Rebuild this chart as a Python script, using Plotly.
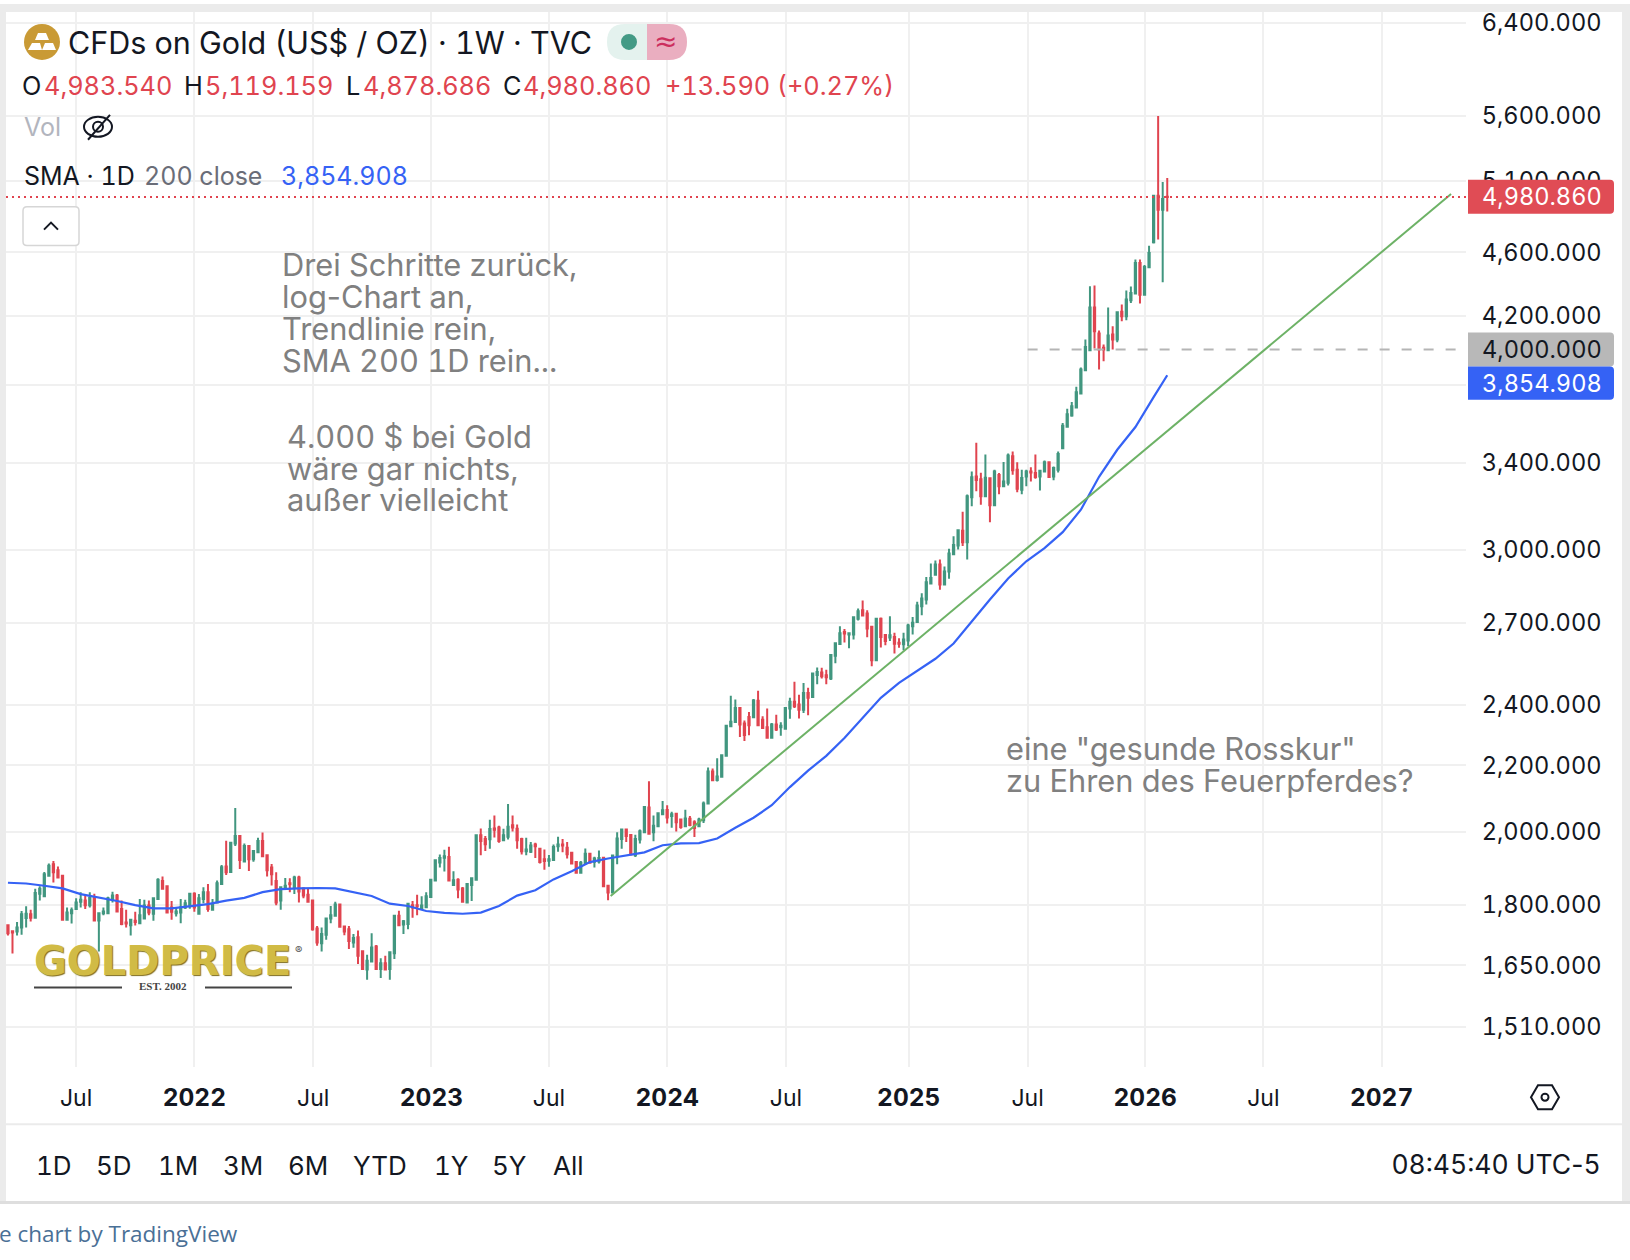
import pandas as pd
import plotly.graph_objects as go

W, H = 1630, 1260

# weekly OHLC
opens = [
    1748, 1733, 1732, 1742, 1766, 1776, 1767, 1829, 1822, 1877,
    1908, 1892, 1877, 1762, 1778, 1789, 1808, 1811, 1799, 1819,
    1760, 1778, 1778, 1813, 1824, 1789, 1755, 1748, 1759, 1753,
    1765, 1798, 1777, 1815, 1863, 1849, 1793, 1778, 1780, 1793,
    1796, 1829, 1777, 1815, 1833, 1787, 1806, 1855, 1902, 1887,
    1966, 1987, 1916, 1959, 1922, 1941, 1973, 1933, 1899, 1863,
    1811, 1844, 1857, 1846, 1872, 1843, 1826, 1811, 1740, 1703,
    1724, 1765, 1772, 1801, 1745, 1738, 1705, 1718, 1684, 1640,
    1659, 1695, 1641, 1655, 1641, 1679, 1772, 1750, 1751, 1799,
    1799, 1789, 1794, 1820, 1864, 1913, 1926, 1928, 1852, 1866,
    1843, 1806, 1852, 1866, 1989, 1979, 1978, 2009, 2012,
    1975, 1985, 2018, 2008, 1979, 1944, 1943, 1963, 1951, 1922, 1918,
    1920, 1958, 1963, 1954, 1940, 1914, 1885, 1910, 1937, 1915,
    1916, 1926, 1850, 1832, 1930, 1979, 2006, 1990, 1933, 1977,
    1998, 2070, 1998, 2015, 2050, 2063, 2045, 2052, 2035, 2015,
    2037, 2027, 2015, 2033, 2082, 2180, 2154, 2164, 2230, 2327,
    2341, 2389, 2336, 2358, 2357, 2414, 2349, 2324, 2289, 2333,
    2324, 2319, 2387, 2410, 2401, 2383, 2441, 2427, 2505, 2514,
    2504, 2492, 2575, 2619, 2665, 2655, 2655, 2716, 2749, 2737,
    2685, 2559, 2716, 2653, 2644, 2646, 2624, 2618, 2632, 2687,
    2703, 2765, 2792, 2857, 2893, 2936, 2853, 2907, 2980, 3018,
    3082, 3032, 3234, 3332, 3319, 3239, 3324, 3197, 3340, 3286,
    3302, 3431, 3365, 3270, 3333, 3357, 3349, 3333, 3357, 3401,
    3333, 3365, 3471, 3579, 3638, 3680, 3755, 3883, 3996, 4249,
    4093, 4010, 3996, 4087, 4058, 4224, 4196, 4294, 4335, 4530,
    4328, 4502, 4667, 4990, 4890, 4983.54,
]
highs = [
    1748, 1733, 1756, 1784, 1796, 1787, 1842, 1849, 1887, 1910,
    1917, 1902, 1879, 1793, 1793, 1817, 1833, 1826, 1833, 1829,
    1778, 1793, 1821, 1834, 1828, 1811, 1787, 1763, 1782, 1815,
    1813, 1811, 1817, 1870, 1875, 1850, 1810, 1793, 1815, 1813,
    1831, 1833, 1828, 1846, 1855, 1815, 1864, 1906, 1974, 1968,
    2069, 1989, 1966, 1961, 1945, 1982, 1997, 1935, 1909, 1886,
    1846, 1871, 1870, 1877, 1877, 1846, 1843, 1811, 1746, 1742,
    1765, 1797, 1808, 1801, 1747, 1746, 1726, 1735, 1684, 1675,
    1728, 1699, 1667, 1673, 1681, 1773, 1785, 1761, 1805, 1810,
    1826, 1822, 1833, 1868, 1922, 1935, 1948, 1957, 1889, 1870,
    1847, 1857, 1871, 1989, 2009, 1987, 2034, 2047, 2017,
    2008, 2081, 2047, 2020, 1982, 1982, 1970, 1968, 1954, 1949, 1934,
    1963, 1985, 1979, 1970, 1942, 1916, 1917, 1952, 1937, 1929,
    1946, 1928, 1851, 1932, 1998, 2009, 2006, 1993, 1991, 2006,
    2074, 2150, 2047, 2055, 2090, 2077, 2058, 2054, 2037, 2064,
    2045, 2033, 2040, 2088, 2193, 2190, 2222, 2234, 2329, 2431,
    2418, 2389, 2346, 2375, 2420, 2449, 2361, 2387, 2338, 2366,
    2340, 2389, 2424, 2481, 2435, 2476, 2459, 2514, 2532, 2531,
    2524, 2582, 2625, 2687, 2676, 2660, 2722, 2756, 2788, 2749,
    2687, 2716, 2721, 2655, 2726, 2662, 2641, 2662, 2696, 2723,
    2783, 2817, 2884, 2941, 2953, 2958, 2928, 3004, 3058, 3088,
    3168, 3247, 3357, 3498, 3351, 3439, 3329, 3365, 3349, 3403,
    3444, 3454, 3401, 3365, 3365, 3377, 3439, 3360, 3410, 3406,
    3381, 3454, 3599, 3673, 3709, 3791, 3898, 4058, 4381, 4385,
    4111, 4029, 4249, 4136, 4224, 4267, 4354, 4379, 4552, 4552,
    4517, 4644, 4995, 5597, 5089, 5119.159,
]
lows = [
    1722, 1678, 1722, 1724, 1742, 1757, 1767, 1811, 1822, 1875,
    1859, 1871, 1762, 1762, 1752, 1789, 1793, 1789, 1793, 1758,
    1683, 1773, 1777, 1806, 1780, 1748, 1742, 1722, 1747, 1751,
    1765, 1773, 1759, 1813, 1840, 1778, 1762, 1770, 1753, 1789,
    1790, 1782, 1777, 1804, 1782, 1787, 1804, 1855, 1879, 1887,
    1959, 1895, 1913, 1890, 1915, 1939, 1928, 1875, 1851, 1799,
    1787, 1842, 1833, 1828, 1806, 1817, 1806, 1734, 1697, 1683,
    1712, 1753, 1770, 1744, 1723, 1689, 1692, 1653, 1640, 1616,
    1659, 1640, 1620, 1640, 1616, 1665, 1748, 1726, 1738, 1767,
    1773, 1789, 1793, 1820, 1864, 1899, 1888, 1864, 1852, 1817,
    1806, 1804, 1810, 1866, 1933, 1945, 1951, 1983, 1968,
    1973, 1977, 2000, 1951, 1935, 1933, 1939, 1925, 1910, 1893, 1901,
    1918, 1943, 1941, 1924, 1910, 1883, 1883, 1910, 1912, 1899,
    1910, 1847, 1812, 1832, 1908, 1951, 1970, 1933, 1928, 1966,
    1998, 1994, 1972, 2015, 2050, 2023, 2011, 2000, 2008, 2015,
    2015, 1984, 2015, 2025, 2082, 2151, 2149, 2164, 2230, 2325,
    2339, 2291, 2278, 2297, 2355, 2327, 2319, 2287, 2287, 2311,
    2295, 2319, 2352, 2389, 2353, 2372, 2364, 2427, 2472, 2492,
    2472, 2487, 2548, 2615, 2625, 2603, 2636, 2709, 2726, 2645,
    2537, 2559, 2606, 2614, 2630, 2584, 2605, 2596, 2611, 2655,
    2703, 2730, 2772, 2854, 2890, 2832, 2853, 2877, 2980, 3000,
    3015, 2958, 3193, 3262, 3200, 3239, 3120, 3197, 3248, 3286,
    3290, 3341, 3258, 3248, 3286, 3308, 3322, 3266, 3354, 3327,
    3314, 3352, 3468, 3575, 3631, 3680, 3755, 3883, 3996, 4006,
    3887, 3933, 3996, 4000, 4042, 4166, 4172, 4277, 4330, 4273,
    4325, 4500, 4658, 4685, 4406, 4878.686,
]
closes = [
    1728, 1730, 1742, 1776, 1777, 1767, 1831, 1842, 1881, 1904,
    1886, 1872, 1762, 1780, 1786, 1806, 1813, 1799, 1818, 1760,
    1778, 1783, 1817, 1824, 1783, 1751, 1752, 1762, 1756, 1773,
    1798, 1780, 1817, 1866, 1842, 1780, 1782, 1783, 1793, 1804,
    1829, 1793, 1817, 1833, 1789, 1801, 1857, 1900, 1886, 1968,
    1987, 1920, 1959, 1922, 1945, 1973, 1930, 1892, 1881, 1806,
    1846, 1850, 1854, 1872, 1835, 1824, 1808, 1738, 1705, 1726,
    1765, 1773, 1801, 1744, 1732, 1709, 1716, 1673, 1641, 1661,
    1693, 1641, 1655, 1640, 1681, 1772, 1748, 1758, 1803, 1793,
    1796, 1798, 1822, 1866, 1919, 1925, 1930, 1864, 1865, 1840,
    1808, 1855, 1870, 1989, 1973, 1964, 2007, 2005, 1973,
    1989, 2014, 2012, 1975, 1944, 1949, 1960, 1958, 1914, 1917, 1922,
    1956, 1963, 1960, 1936, 1910, 1885, 1912, 1937, 1912, 1924,
    1925, 1849, 1832, 1932, 1980, 2006, 1987, 1935, 1979, 2001,
    2072, 1994, 2017, 2053, 2062, 2041, 2050, 2027, 2013, 2038,
    2019, 2010, 2035, 2082, 2180, 2153, 2165, 2232, 2329, 2342,
    2389, 2333, 2298, 2330, 2415, 2330, 2321, 2289, 2333, 2316,
    2329, 2389, 2410, 2395, 2383, 2441, 2424, 2510, 2516, 2500,
    2497, 2578, 2622, 2660, 2659, 2660, 2722, 2745, 2729, 2678,
    2559, 2716, 2646, 2630, 2652, 2620, 2620, 2636, 2690, 2700,
    2768, 2796, 2862, 2880, 2936, 2853, 2907, 2983, 3020, 3084,
    3032, 3239, 3329, 3316, 3239, 3326, 3197, 3357, 3286, 3308,
    3434, 3362, 3274, 3325, 3357, 3352, 3330, 3360, 3402, 3330,
    3373, 3442, 3585, 3644, 3687, 3762, 3887, 4015, 4249, 4107,
    4000, 4000, 4081, 4058, 4220, 4196, 4298, 4339, 4530, 4328,
    4504, 4595, 4990, 4890, 4967, 4980.86,
]
# SMA 200 1D, read every fourth week plus the last bar
sma_values = [
    1858, 1856, 1850, 1843, 1828, 1819, 1810, 1799, 1791, 1791,
    1796, 1802, 1811, 1818, 1833, 1841, 1843, 1844, 1843, 1833,
    1823, 1803, 1797, 1784, 1779, 1777, 1780, 1797,
    1824, 1838, 1867, 1889, 1914, 1924, 1932, 1941, 1961, 1966,
    1967, 1980, 2011, 2040, 2077, 2132, 2183, 2230, 2288, 2355,
    2424, 2477, 2519, 2564, 2621, 2706, 2792, 2878, 2950, 3006,
    3076, 3177, 3331, 3463, 3578, 3735, 3854.908,
]
trend_dates = ["2023-09-29", "2027-04-15"]
trend_values = [1823, 5002]
level_dates = ["2025-07-02", "2027-04-22"]
level_values = [4000, 4000]
last_price = 4980.86

price_ticks = [1510, 1650, 1800, 2000, 2200, 2400, 2700, 3000, 3400, 3800, 4200, 4600, 5100, 5600, 6400]
date_ticks = ["2021-06-28", "2021-12-27", "2022-06-28", "2022-12-27", "2023-06-26", "2023-12-25",
              "2024-06-25", "2024-12-31", "2025-07-02", "2025-12-30", "2026-06-30", "2026-12-29"]
date_labels = ["Jul", "2022", "Jul", "2023", "Jul", "2024", "Jul", "2025", "Jul", "2026", "Jul", "2027"]
x_range = ["2021-03-12", "2027-05-08"]

UP = "#41967f"
DOWN = "#e0444f"
BLUE = "#3562f5"
INK = "#131722"
GREY_TEXT = "#808080"
FONT = "Inter"
# keeps a hyphen out of the tabular digit setting used for the rest of the text
HYPHEN = "<span style='font-feature-settings:normal'>-</span>"

dates = pd.date_range("2021-03-15", periods=len(opens), freq="7D")
sma_dates = list(dates[::4]) + [dates[-1]]


def px(x):
    return x / W


def py(y):
    return 1 - y / H


fig = go.Figure()

fig.add_trace(go.Candlestick(
    x=dates, open=opens, high=highs, low=lows, close=closes,
    whiskerwidth=0,
    increasing=dict(line=dict(color=UP, width=2), fillcolor=UP),
    decreasing=dict(line=dict(color=DOWN, width=2), fillcolor=DOWN),
    showlegend=False,
))
fig.add_trace(go.Scatter(x=sma_dates, y=sma_values, mode="lines",
                         line=dict(color=BLUE, width=2.2), showlegend=False))
fig.add_trace(go.Scatter(x=trend_dates, y=trend_values, mode="lines",
                         line=dict(color="#6db266", width=2), showlegend=False))
fig.add_trace(go.Scatter(x=level_dates, y=level_values, mode="lines",
                         line=dict(color="#b5b5b5", width=2, dash="10px,12px"), showlegend=False))
fig.add_trace(go.Scatter(x=x_range, y=[last_price, last_price], mode="lines",
                         line=dict(color=DOWN, width=2, dash="2px,4px"), showlegend=False))

shapes = []
annotations = []


def text(x, y, s, size=26, color=INK, anchor="left", family=FONT, **kw):
    annotations.append(dict(
        x=px(x), y=py(y), xref="paper", yref="paper", text=s, showarrow=False,
        xanchor=anchor, yanchor="middle", align=anchor, borderpad=0,
        font=dict(size=size, color=color, family=family, **kw),
    ))


def rect(x0, y0, x1, y1, fill, line=None):
    shapes.append(dict(type="rect", xref="paper", yref="paper", x0=px(x0), x1=px(x1),
                       y0=py(y0), y1=py(y1), fillcolor=fill, line=dict(width=0, color=line or fill)))


def path(points, color=None, width=1.5, fill=None, close=False):
    d = "M " + " L ".join(f"{px(a):.5f},{py(b):.5f}" for a, b in points) + (" Z" if close else "")
    shapes.append(dict(type="path", xref="paper", yref="paper", path=d, fillcolor=fill,
                       line=dict(color=color, width=width if color else 0)))


def circle(cx, cy, rx, ry=None, fill=None, color=None, width=1.5):
    ry = ry or rx
    shapes.append(dict(type="circle", xref="paper", yref="paper", x0=px(cx - rx), x1=px(cx + rx),
                       y0=py(cy - ry), y1=py(cy + ry), fillcolor=fill,
                       line=dict(color=color, width=width if color else 0)))


def price_label(y0, y1, fill, label, color):
    # flat on the left, small rounding on the right like the price scale tags
    x0, x1, r = 1468, 1614, 4
    d = (f"M {px(x0)},{py(y0)} L {px(x1 - r)},{py(y0)} Q {px(x1)},{py(y0)} {px(x1)},{py(y0 + r)} "
         f"L {px(x1)},{py(y1 - r)} Q {px(x1)},{py(y1)} {px(x1 - r)},{py(y1)} L {px(x0)},{py(y1)} Z")
    shapes.append(dict(type="path", xref="paper", yref="paper", path=d, fillcolor=fill, line=dict(width=0)))
    text(1481, (y0 + y1) / 2, label, size=23.6, color=color)


# page frame around the widget
PAGE = "#ebebeb"
rect(0, 2, W, 10, PAGE)
rect(0, 2, 6, 1202, PAGE)
rect(1622, 2, W, 1202, PAGE)
rect(6, 1123, 1622, 1125, PAGE)
rect(0, 1201, W, 1204, "#dedede")

# header
circle(42, 40, 18, fill="#c99a35")
path([(38, 31), (46, 31), (49, 38), (35, 38)], fill="white", close=True)
path([(32, 41), (40, 41), (42, 48), (28, 48)], fill="white", close=True)
path([(45, 41), (53, 41), (56, 48), (42, 48)], fill="white", close=True)
text(67, 41, "CFDs on Gold (US$ / OZ) · 1W · TVC", size=30.5)

# market status pill
shapes.append(dict(type="path", xref="paper", yref="paper", fillcolor="#e4f2ee", line=dict(width=0),
                   path=f"M {px(647)},{py(22)} L {px(625)},{py(22)} Q {px(607)},{py(22)} {px(607)},{py(40)} "
                        f"Q {px(607)},{py(58)} {px(625)},{py(58)} L {px(647)},{py(58)} Z"))
shapes.append(dict(type="path", xref="paper", yref="paper", fillcolor="#eaaec0", line=dict(width=0),
                   path=f"M {px(647)},{py(22)} L {px(669)},{py(22)} Q {px(687)},{py(22)} {px(687)},{py(40)} "
                        f"Q {px(687)},{py(58)} {px(669)},{py(58)} L {px(647)},{py(58)} Z"))
circle(629, 40, 8, fill="#439a85")
text(665, 40, "≈", size=28, color="#cc2f5e", anchor="center", family="DejaVu Sans")

# OHLC row
for x, s, c in [(21, "O", INK), (42.5, "4,983.540", DOWN), (183, "H", INK), (204, "5,119.159", DOWN),
                (345, "L", INK), (362, "4,878.686", DOWN), (502, "C", INK), (522, "4,980.860", DOWN),
                (663.5, "+13.590 (+0.27%)", DOWN)]:
    text(x, 84, s, size=25.3, color=c)

text(23, 125, "Vol", size=25, color="#b2b5be")
circle(98, 125, 14, 10, color=INK, width=2)
circle(98, 125, 5, color=INK, width=2)
path([(88, 138), (110, 113)], color=INK, width=2)

text(23, 174, "SMA · 1D", size=25)
text(143, 174, "200 close", size=25, color="#6a6d78")
text(279.5, 174, "3,854.908", size=25, color=BLUE)

# collapse button, rounded
bx0, bx1, by0, by1, br = 23, 79, 205, 244, 4
shapes.append(dict(
    type="path", xref="paper", yref="paper", fillcolor="white", line=dict(color="#d6d6d6", width=1.5),
    path=(f"M {px(bx0 + br)},{py(by0)} L {px(bx1 - br)},{py(by0)} Q {px(bx1)},{py(by0)} {px(bx1)},{py(by0 + br)} "
          f"L {px(bx1)},{py(by1 - br)} Q {px(bx1)},{py(by1)} {px(bx1 - br)},{py(by1)} "
          f"L {px(bx0 + br)},{py(by1)} Q {px(bx0)},{py(by1)} {px(bx0)},{py(by1 - br)} "
          f"L {px(bx0)},{py(by0 + br)} Q {px(bx0)},{py(by0)} {px(bx0 + br)},{py(by0)} Z")))
path([(44, 228), (51, 221), (58, 228)], color=INK, width=2)

# chart notes
for y, s in [(263, "Drei Schritte zurück,"), (295, "log" + HYPHEN + "Chart an,"), (327, "Trendlinie rein,"),
             (359, "SMA 200 1D rein...")]:
    text(280.5, y, s, size=30.8, color=GREY_TEXT)
for y, s in [(435, "4.000 $ bei Gold"), (467, "wäre gar nichts,"), (498.5, "außer vielleicht")]:
    text(285.5, y, s, size=30.8, color=GREY_TEXT)
for y, s in [(748, 'eine "gesunde Rosskur"'), (779.5, "zu Ehren des Feuerpferdes?")]:
    text(1004.5, y, s, size=30.8, color=GREY_TEXT)

# watermark
text(33, 961, "<b>GOLDPRICE</b>", size=40, color="#d1bb45", family="DejaVu Sans",
     shadow="1px 1px 1px #7f6d1e")
text(294, 950, "®", size=11, color="#555555")
rect(34, 986, 122, 988, "#444444")
rect(205, 986, 292, 988, "#444444")
text(163, 986, "<b>EST. 2002</b>", size=11, color="#444444", anchor="center", family="Liberation Serif")

# price tags
price_label(178, 212, "#e04c55", "4,980.860", "white")
price_label(331, 365, "#b8b8b8", "4,000.000", INK)
price_label(365, 398.5, BLUE, "3,854.908", "white")

# bottom bar
for x, s in [(34.5, "1D"), (94.5, "5D"), (156.5, "1M"), (221.5, "3M"), (286.5, "6M"), (351.5, "YTD"),
             (432.5, "1Y"), (491.5, "5Y"), (551.5, "All")]:
    text(x, 1165, s, size=26)
text(1602, 1164, "08:45:40 UTC" + HYPHEN + "5", size=26.5, anchor="right")
text(-2, 1233, "e chart by TradingView", size=22.5, color="#4a7096", family="Open Sans")

# settings hexagon
cx, cy = 1545, 1097
path([(cx - 14, cy), (cx - 7, cy - 12), (cx + 7, cy - 12), (cx + 14, cy), (cx + 7, cy + 12), (cx - 7, cy + 12)],
     color=INK, width=2, close=True)
circle(cx, cy, 3.5, color=INK, width=2)

# year labels sit bold and a touch larger than the month labels
tick_labels = [s if s == "Jul" else f"<span style='font-size:24.5px'><b>{s}</b></span>" for s in date_labels]

fig.update_layout(
    width=W, height=H, autosize=False,
    margin=dict(l=0, r=0, t=0, b=0),
    paper_bgcolor="white", plot_bgcolor="white",
    boxgap=0.6,
    showlegend=False,
    shapes=shapes, annotations=annotations,
    font=dict(family=FONT, color=INK),
    xaxis=dict(
        domain=[px(6), px(1466)], range=x_range, type="date",
        rangeslider=dict(visible=False),
        tickmode="array", tickvals=date_ticks, ticktext=tick_labels,
        showgrid=True, gridcolor="#f0f0f0", gridwidth=1.5,
        zeroline=False, showline=False,
        ticks="outside", ticklen=11, tickcolor="white",
        tickfont=dict(size=23, family=FONT, color=INK),
    ),
    yaxis=dict(
        domain=[py(1066.5), py(8)], type="log", side="right",
        range=[3.1541, 3.8141],
        tickmode="array", tickvals=price_ticks,
        ticktext=[f"{p:,}.000" if p != 3800 else "" for p in price_ticks],
        showgrid=True, gridcolor="#f0f0f0", gridwidth=1.5,
        zeroline=False, showline=False,
        ticks="outside", ticklen=10, tickcolor="white",
        tickfont=dict(size=23.6, family=FONT, color=INK),
    ),
)

# tabular digits like the widget, then redraw so the text gets measured with them
post = """
document.body.style.margin = '0';
var st = document.createElement('style');
st.textContent = 'svg text { font-feature-settings: "tnum" 1; }';
document.head.appendChild(st);
Plotly.redraw(document.getElementById('{plot_id}'));
"""
fig.write_html("out.html", config={"displayModeBar": False}, post_script=post)
